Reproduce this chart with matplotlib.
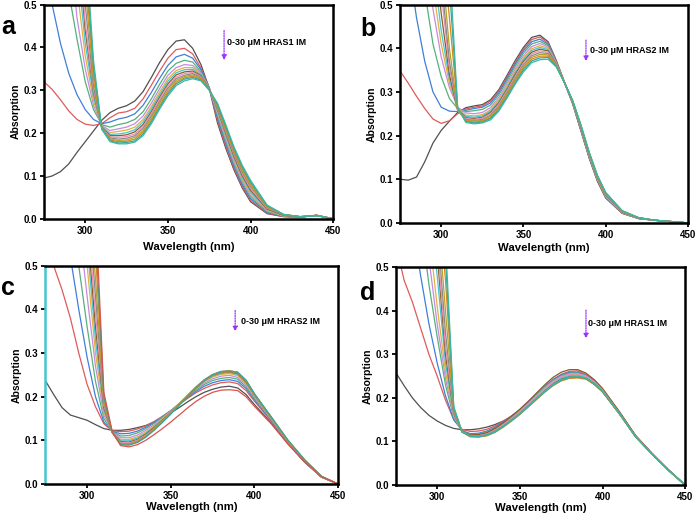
import matplotlib
matplotlib.use("Agg")
import matplotlib.pyplot as plt

plt.rcParams['font.family'] = ['Liberation Sans', 'DejaVu Sans']

# longitudes de onda comunes (nm)
wavelength = [275, 280, 285, 290, 295, 300, 305, 310, 315, 320, 325, 330, 335, 340, 345, 350,
              355, 360, 365, 370, 375, 380, 385, 390, 395, 400, 410, 420, 430, 440, 450]

# panel a: 0-30 uM HRAS1 IM
spectra_a = [
    [.095, .100, .110, .128, .155, .180, .205, .230, .248, .258, .264, .275, .297, .330, .365, .395, .415, .418, .398, .360, .305, .224, .165, .114, .072, .040, .012, .005, .004, .008, .000],
    [.320, .302, .278, .252, .232, .221, .218, .222, .236, .247, .250, .258, .280, .312, .345, .375, .395, .398, .385, .352, .306, .230, .170, .118, .076, .043, .013, .005, .004, .008, .000],
    [.62, .50, .41, .34, .29, .255, .232, .222, .226, .233, .237, .245, .265, .295, .328, .358, .378, .384, .375, .348, .307, .236, .176, .123, .080, .047, .015, .006, .004, .008, .000],
    [1.20, .95, .72, .53, .42, .32, .255, .220, .214, .220, .224, .232, .250, .280, .314, .345, .363, .370, .366, .343, .306, .242, .182, .128, .085, .051, .017, .006, .004, .008, .000],
    [1.50, 1.20, .92, .66, .47, .35, .265, .218, .206, .210, .214, .222, .240, .270, .304, .335, .353, .360, .358, .340, .305, .246, .187, .133, .089, .055, .019, .007, .004, .008, .000],
    [1.65, 1.35, 1.05, .78, .54, .38, .275, .216, .201, .204, .207, .214, .232, .262, .296, .327, .346, .353, .353, .338, .305, .250, .192, .138, .093, .059, .020, .007, .004, .008, .000],
    [1.75, 1.45, 1.15, .86, .60, .41, .285, .215, .197, .198, .201, .208, .226, .256, .290, .321, .341, .348, .349, .336, .304, .253, .196, .142, .097, .063, .022, .008, .004, .008, .000],
    [1.85, 1.55, 1.24, .93, .66, .44, .295, .214, .194, .194, .196, .203, .220, .250, .284, .315, .336, .343, .345, .334, .304, .256, .200, .146, .101, .067, .023, .008, .004, .008, .000],
    [1.90, 1.60, 1.30, .98, .70, .46, .300, .213, .191, .190, .192, .198, .215, .245, .279, .310, .331, .339, .342, .332, .303, .258, .203, .150, .105, .071, .025, .009, .005, .008, .000],
    [1.95, 1.65, 1.35, 1.03, .75, .50, .310, .212, .189, .186, .188, .194, .211, .240, .274, .305, .327, .335, .339, .330, .303, .260, .206, .154, .109, .075, .027, .009, .005, .008, .000],
    [2.00, 1.70, 1.40, 1.08, .80, .54, .325, .211, .186, .183, .184, .190, .206, .235, .269, .300, .323, .332, .336, .328, .302, .262, .209, .158, .113, .079, .028, .010, .005, .008, .000],
    [2.05, 1.75, 1.45, 1.13, .85, .58, .340, .210, .184, .180, .181, .186, .202, .230, .264, .295, .319, .329, .333, .326, .302, .265, .213, .161, .117, .083, .030, .010, .005, .008, .000],
    [2.10, 1.80, 1.50, 1.17, .89, .62, .355, .210, .182, .177, .178, .182, .198, .226, .260, .291, .315, .326, .330, .324, .301, .267, .216, .165, .121, .086, .031, .010, .005, .007, .000],
    [2.15, 1.85, 1.55, 1.20, .93, .66, .370, .209, .180, .175, .175, .179, .194, .222, .256, .287, .311, .322, .327, .322, .300, .270, .220, .168, .125, .090, .032, .010, .005, .007, .000],
]

# panel b: 0-30 uM HRAS2 IM
spectra_b = [
    [.100, .098, .105, .140, .183, .212, .233, .253, .264, .268, .271, .282, .305, .338, .372, .402, .425, .430, .415, .372, .322, .272, .210, .148, .095, .057, .022, .010, .006, .003, .000],
    [.348, .320, .290, .262, .238, .228, .234, .250, .261, .265, .268, .279, .302, .334, .368, .398, .420, .426, .412, .370, .321, .272, .211, .149, .096, .058, .022, .010, .006, .003, .000],
    [.78, .60, .47, .37, .30, .265, .256, .255, .258, .262, .265, .275, .298, .330, .364, .394, .415, .421, .409, .368, .321, .274, .213, .151, .098, .059, .023, .010, .006, .003, .000],
    [1.20, .98, .74, .53, .41, .335, .285, .262, .255, .257, .260, .270, .293, .325, .359, .389, .410, .416, .406, .367, .321, .275, .214, .152, .099, .060, .023, .010, .006, .003, .000],
    [1.50, 1.20, .95, .65, .49, .38, .31, .265, .252, .250, .253, .264, .287, .319, .353, .383, .404, .411, .403, .366, .321, .275, .215, .153, .100, .061, .024, .011, .006, .003, .000],
    [1.60, 1.35, 1.05, .75, .54, .41, .32, .262, .247, .245, .248, .259, .282, .314, .348, .378, .399, .406, .400, .365, .321, .276, .216, .154, .101, .062, .024, .011, .006, .003, .000],
    [1.70, 1.45, 1.15, .84, .60, .44, .33, .260, .244, .242, .245, .256, .278, .310, .344, .374, .395, .402, .397, .364, .321, .276, .217, .155, .102, .063, .025, .011, .006, .003, .000],
    [1.80, 1.55, 1.25, .92, .66, .48, .34, .259, .241, .239, .242, .253, .275, .306, .340, .370, .391, .398, .394, .363, .321, .277, .218, .156, .103, .064, .025, .011, .006, .003, .000],
    [1.90, 1.60, 1.30, 1.00, .72, .53, .355, .258, .239, .237, .240, .250, .272, .303, .336, .366, .387, .394, .391, .362, .321, .277, .219, .157, .104, .065, .026, .011, .006, .003, .000],
    [1.95, 1.65, 1.35, 1.05, .77, .56, .37, .258, .237, .235, .237, .247, .268, .299, .332, .362, .383, .390, .388, .361, .321, .278, .220, .158, .105, .066, .026, .012, .006, .003, .000],
    [2.00, 1.70, 1.40, 1.10, .82, .61, .40, .258, .235, .233, .235, .244, .265, .296, .329, .358, .379, .386, .385, .360, .321, .278, .221, .159, .106, .067, .027, .012, .006, .003, .000],
    [2.05, 1.75, 1.45, 1.15, .88, .66, .47, .262, .234, .231, .233, .241, .262, .292, .325, .354, .375, .382, .382, .359, .321, .279, .222, .160, .107, .068, .027, .012, .006, .003, .000],
    [2.10, 1.80, 1.50, 1.20, .93, .72, .54, .263, .232, .229, .231, .239, .259, .289, .321, .350, .371, .378, .379, .358, .321, .279, .223, .161, .108, .069, .028, .012, .006, .003, .000],
    [2.15, 1.85, 1.55, 1.25, .98, .78, .60, .264, .230, .227, .229, .236, .256, .286, .318, .346, .367, .374, .375, .357, .321, .280, .224, .162, .109, .070, .028, .012, .006, .003, .000],
]

# panel c: 0-30 uM HRAS2 IM
spectra_c = [
    [.237, .205, .175, .158, .152, .146, .136, .127, .123, .123, .125, .129, .134, .142, .152, .163, .175, .188, .200, .210, .217, .222, .224, .220, .205, .182, .140, .092, .050, .016, .000],
    [.58, .50, .445, .38, .30, .228, .177, .138, .122, .120, .121, .126, .133, .143, .155, .168, .182, .196, .209, .219, .227, .232, .234, .230, .214, .190, .144, .094, .051, .016, .000],
    [1.00, .80, .66, .52, .40, .29, .20, .142, .121, .115, .116, .121, .130, .141, .154, .168, .183, .198, .212, .224, .232, .237, .239, .235, .219, .193, .146, .095, .052, .016, .000],
    [1.30, 1.05, .85, .66, .50, .36, .235, .150, .120, .110, .111, .117, .127, .139, .153, .168, .184, .200, .215, .228, .237, .242, .244, .240, .223, .196, .148, .096, .052, .016, .000],
    [1.50, 1.25, 1.00, .78, .60, .43, .27, .158, .119, .106, .106, .112, .123, .136, .151, .167, .184, .201, .217, .231, .241, .247, .249, .244, .227, .199, .149, .097, .053, .017, .000],
    [1.60, 1.35, 1.10, .86, .67, .50, .30, .165, .118, .102, .102, .108, .119, .133, .149, .166, .184, .202, .219, .234, .245, .251, .253, .248, .230, .201, .150, .097, .053, .017, .000],
    [1.70, 1.45, 1.20, .94, .72, .55, .33, .170, .118, .099, .099, .105, .116, .131, .147, .165, .184, .202, .220, .236, .247, .253, .255, .251, .232, .203, .151, .098, .054, .017, .000],
    [1.80, 1.50, 1.25, 1.00, .77, .59, .36, .175, .118, .097, .096, .102, .114, .129, .146, .164, .183, .202, .221, .237, .249, .255, .257, .253, .234, .204, .152, .098, .054, .017, .000],
    [1.85, 1.55, 1.30, 1.05, .82, .63, .39, .180, .118, .095, .094, .100, .112, .127, .145, .164, .183, .203, .222, .238, .250, .257, .259, .255, .236, .205, .152, .099, .054, .017, .000],
    [1.90, 1.60, 1.35, 1.10, .87, .67, .43, .185, .118, .093, .092, .098, .110, .126, .144, .163, .183, .203, .222, .239, .251, .258, .260, .256, .237, .206, .153, .099, .055, .017, .000],
    [1.95, 1.65, 1.40, 1.15, .92, .72, .47, .190, .118, .092, .091, .097, .109, .125, .143, .162, .182, .202, .221, .238, .250, .257, .259, .256, .237, .206, .153, .100, .055, .017, .000],
    [2.00, 1.70, 1.45, 1.20, .97, .77, .53, .195, .118, .091, .090, .096, .108, .124, .142, .161, .181, .200, .219, .236, .248, .255, .257, .255, .237, .206, .154, .100, .055, .018, .000],
    [2.05, 1.75, 1.50, 1.25, 1.02, .82, .58, .200, .119, .090, .089, .095, .107, .123, .141, .160, .180, .200, .220, .237, .250, .257, .258, .256, .238, .207, .154, .101, .056, .018, .000],
    [2.10, 1.80, 1.55, 1.30, 1.07, .87, .63, .210, .120, .088, .085, .090, .100, .113, .127, .142, .158, .174, .189, .201, .210, .215, .216, .214, .200, .178, .138, .092, .051, .017, .000],
]

# panel d: 0-30 uM HRAS1 IM
spectra_d = [
    [.258, .228, .200, .178, .160, .147, .137, .130, .127, .127, .129, .133, .139, .147, .156, .166, .182, .200, .218, .233, .244, .250, .250, .244, .231, .214, .164, .111, .071, .033, .000],
    [.55, .47, .42, .36, .30, .25, .195, .150, .128, .123, .124, .128, .136, .147, .159, .173, .190, .208, .226, .242, .254, .261, .262, .254, .240, .220, .168, .113, .072, .034, .000],
    [.95, .75, .60, .48, .37, .28, .205, .150, .125, .118, .119, .124, .133, .145, .158, .173, .190, .208, .226, .242, .253, .259, .259, .252, .238, .219, .168, .113, .072, .034, .000],
    [1.25, 1.00, .80, .61, .46, .34, .23, .155, .124, .116, .117, .122, .131, .143, .157, .172, .189, .207, .225, .240, .251, .257, .257, .251, .237, .218, .167, .112, .072, .034, .000],
    [1.40, 1.15, .92, .70, .52, .37, .245, .158, .123, .115, .116, .120, .129, .141, .155, .170, .187, .205, .223, .238, .249, .255, .256, .250, .236, .217, .167, .112, .071, .034, .000],
    [1.50, 1.25, 1.02, .79, .58, .41, .26, .160, .122, .114, .114, .118, .127, .139, .153, .168, .185, .203, .221, .236, .247, .253, .254, .248, .235, .216, .166, .111, .071, .034, .000],
    [1.60, 1.35, 1.10, .86, .65, .48, .28, .162, .122, .113, .113, .117, .126, .138, .152, .167, .184, .202, .220, .235, .246, .251, .252, .247, .234, .216, .166, .111, .071, .034, .000],
    [1.70, 1.45, 1.18, .92, .70, .53, .30, .165, .123, .115, .116, .120, .130, .143, .158, .174, .192, .211, .230, .247, .259, .265, .265, .257, .242, .222, .170, .114, .073, .035, .000],
    [1.75, 1.50, 1.22, .96, .74, .56, .32, .167, .122, .113, .113, .117, .126, .138, .152, .167, .184, .202, .220, .236, .248, .254, .255, .250, .237, .218, .167, .112, .072, .034, .000],
    [1.80, 1.55, 1.26, 1.00, .78, .60, .35, .170, .122, .112, .112, .116, .124, .136, .150, .165, .182, .199, .216, .231, .242, .248, .249, .245, .233, .215, .166, .111, .071, .034, .000],
    [1.85, 1.60, 1.30, 1.05, .82, .64, .40, .173, .122, .111, .111, .114, .122, .134, .148, .163, .180, .197, .214, .229, .240, .246, .247, .244, .232, .214, .165, .111, .071, .034, .000],
    [1.90, 1.65, 1.35, 1.10, .87, .68, .47, .176, .122, .111, .110, .113, .121, .133, .147, .162, .179, .196, .213, .228, .239, .245, .246, .243, .232, .214, .165, .111, .071, .034, .000],
    [1.95, 1.70, 1.40, 1.15, .91, .72, .52, .178, .122, .112, .111, .114, .122, .134, .148, .163, .180, .197, .214, .229, .241, .247, .248, .245, .233, .215, .166, .111, .071, .034, .000],
    [2.00, 1.75, 1.45, 1.20, .95, .76, .56, .180, .123, .113, .112, .115, .123, .135, .149, .164, .181, .198, .215, .230, .242, .248, .249, .246, .234, .216, .166, .111, .071, .034, .000],
]

# colores de las curvas (0 uM primero)
line_colors = ['#505050', '#e05a5a', '#3f7fd8', '#55b079', '#c58be0', '#e2b23c', '#45c4d2',
               '#8b5a2b', '#ef8fb8', '#8a8a8a', '#b5a22a', '#d9871f', '#2fa8a0', '#3cb8a0']

panel_letters = ['a', 'b', 'c', 'd']
panel_labels = ['0-30 \u03bcM HRAS1 IM', '0-30 \u03bcM HRAS2 IM', '0-30 \u03bcM HRAS2 IM', '0-30 \u03bcM HRAS1 IM']

fig = plt.figure(figsize=(6.97, 5.16), dpi=100)

# posiciones de los ejes (fraccion de figura)
boxes = [[0.063, 0.576, 0.415, 0.415],
         [0.574, 0.568, 0.413, 0.423],
         [0.065, 0.062, 0.420, 0.423],
         [0.568, 0.060, 0.415, 0.422]]
letter_pos = [(0.002, 0.948), (0.517, 0.944), (0.002, 0.442), (0.517, 0.432)]
xlabel_pad = [4.5, 2.5, 1.0, 0.5]
arrow_x = [384, 388, 388.5, 390]
arrow_y = [(0.446, 0.364), (0.425, 0.364), (0.404, 0.343), (0.408, 0.330)]
text_pos = [(386, 0.411), (390.5, 0.395), (392, 0.373), (391.5, 0.372)]

all_spectra = [spectra_a, spectra_b, spectra_c, spectra_d]

for i, spectra in enumerate(all_spectra):
    ax = fig.add_axes(boxes[i])
    for k, curve in enumerate(spectra):
        color = line_colors[k]
        if i == 2 and k == len(spectra) - 1:
            color = '#d9534f'
        ax.plot(wavelength, curve, color=color, lw=0.9)

    ax.set_xlim(275, 450)
    ax.set_ylim(0, 0.5)
    ax.set_xticks([300, 350, 400, 450])
    ax.set_yticks([0.0, 0.1, 0.2, 0.3, 0.4, 0.5])
    ax.set_yticklabels(['0.0', '0.1', '0.2', '0.3', '0.4', '0.5'])
    ax.tick_params(direction='out', length=3, width=1.3, labelsize=7, pad=2)
    for lab in ax.get_xticklabels() + ax.get_yticklabels():
        lab.set_fontweight('bold')
    for sp in ax.spines.values():
        sp.set_linewidth(1.8)
    if i == 2:
        ax.spines['left'].set_color('#45c4d2')

    ax.set_xlabel('Wavelength (nm)', fontsize=8.2, fontweight='bold', labelpad=xlabel_pad[i])
    ax.set_ylabel('Absorption', fontsize=7.5, fontweight='bold', labelpad=2)

    # flecha punteada y texto
    ax.annotate('', xy=(arrow_x[i], arrow_y[i][1]), xytext=(arrow_x[i], arrow_y[i][0]),
                arrowprops=dict(arrowstyle='-|>', color='#9b30ff', lw=0.9,
                                linestyle=(0, (1, 1)), mutation_scale=7))
    ax.text(text_pos[i][0], text_pos[i][1], panel_labels[i], fontsize=6.5,
            fontweight='bold', va='center', ha='left')

    fig.text(letter_pos[i][0], letter_pos[i][1], panel_letters[i], fontsize=18,
             fontweight='bold', va='center', ha='left')

fig.savefig('out.png', dpi=100)
